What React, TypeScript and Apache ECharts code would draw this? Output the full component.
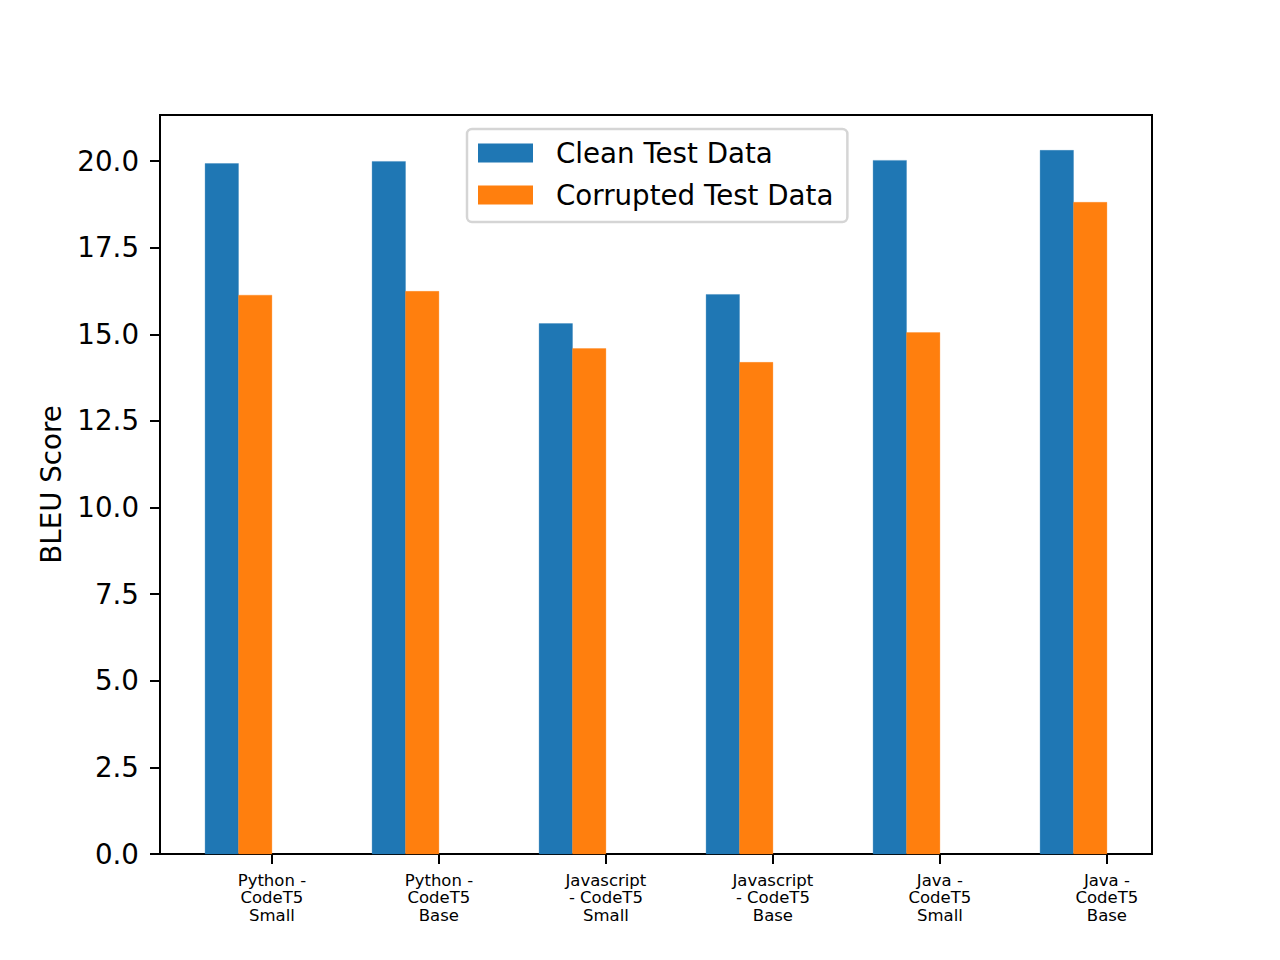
import React, { useEffect, useRef } from "react";
import * as echarts from "echarts";

const categories = [
  "Python -\nCodeT5\nSmall",
  "Python -\nCodeT5\nBase",
  "Javascript\n- CodeT5\nSmall",
  "Javascript\n- CodeT5\nBase",
  "Java -\nCodeT5\nSmall",
  "Java -\nCodeT5\nBase",
];
const cleanScores = [19.93, 19.99, 15.31, 16.15, 20.02, 20.31];
const corruptedScores = [16.13, 16.24, 14.59, 14.19, 15.05, 18.81];
const yTicks = [0, 2.5, 5, 7.5, 10, 12.5, 15, 17.5, 20];
const seriesNames = ["Clean Test Data", "Corrupted Test Data"];
const colors = ["#1f77b4", "#ff7f0e"];

const BAR_W = 0.2;
const FONT = "DejaVu Sans";
const FS = 27.7;

function makeRender(color: string) {
  return (params: any, api: any) => {
    const x = api.value(0);
    const y = api.value(1);
    const p0 = api.coord([x - BAR_W / 2, y]);
    const p1 = api.coord([x + BAR_W / 2, 0]);
    return {
      type: "rect",
      shape: { x: p0[0], y: p0[1], width: p1[0] - p0[0], height: p1[1] - p0[1] },
      style: { fill: color, stroke: color, lineWidth: 0.3 },
    };
  };
}

export default function App() {
  const ref = useRef<HTMLDivElement>(null);
  useEffect(() => {
    document.body.style.margin = "0";
    if (!ref.current) return;
    const chart = echarts.init(ref.current, undefined, { renderer: "svg" });
    const idx = categories.map((_, i) => i);
    chart.setOption({
      animation: false,
      backgroundColor: "#ffffff",
      grid: {
        left: 160,
        top: 115,
        right: 128,
        bottom: 106,
        show: true,
        borderColor: "#000",
        borderWidth: 2,
        outerBoundsMode: "none",
      },
      legend: {
        orient: "vertical",
        left: 467,
        top: 129,
        itemWidth: 55,
        itemHeight: 19,
        itemGap: 14,
        padding: [10, 14, 13, 11],
        backgroundColor: "rgba(255,255,255,0.8)",
        borderColor: "#d5d5d5",
        borderWidth: 2.5,
        borderRadius: 5,
        selectedMode: false,
        data: seriesNames.map((n) => ({ name: n, icon: "rect" })),
        textStyle: {
          fontSize: FS,
          lineHeight: 28,
          color: "#000",
          fontFamily: FONT,
          padding: [0, 0, 0, 18],
        },
      },
      xAxis: {
        type: "value",
        min: -0.67,
        max: 5.27,
        splitLine: { show: false },
        axisLine: { show: true, onZero: false, lineStyle: { color: "#000", width: 2 } },
        axisTick: {
          show: true,
          customValues: idx,
          length: 10,
          lineStyle: { color: "#000", width: 2 },
        },
        axisLabel: {
          customValues: idx,
          formatter: (v: number) => categories[Math.round(v)] ?? "",
          fontSize: 16.5,
          lineHeight: 17.3,
          margin: 18,
          color: "#000",
          fontFamily: FONT,
          align: "center",
        },
      },
      yAxis: {
        type: "value",
        min: 0,
        max: 21.33,
        name: "BLEU Score",
        nameLocation: "middle",
        nameGap: 95,
        nameTextStyle: { fontSize: FS, lineHeight: 28, color: "#000", fontFamily: FONT },
        splitLine: { show: false },
        axisLine: { show: true, onZero: false, lineStyle: { color: "#000", width: 2 } },
        axisTick: {
          show: true,
          customValues: yTicks,
          length: 10,
          lineStyle: { color: "#000", width: 2 },
        },
        axisLabel: {
          customValues: yTicks,
          formatter: (v: number) => v.toFixed(1),
          fontSize: FS,
          margin: 21,
          color: "#000",
          fontFamily: FONT,
        },
      },
      series: [
        {
          name: seriesNames[0],
          type: "custom",
          itemStyle: { color: colors[0] },
          renderItem: makeRender(colors[0]),
          encode: { x: 0, y: 1 },
          data: cleanScores.map((v, i) => [i - 0.3, v]),
        },
        {
          name: seriesNames[1],
          type: "custom",
          itemStyle: { color: colors[1] },
          renderItem: makeRender(colors[1]),
          encode: { x: 0, y: 1 },
          data: corruptedScores.map((v, i) => [i - 0.1, v]),
        },
      ],
    });
    return () => chart.dispose();
  }, []);
  return <div ref={ref} style={{ width: 1280, height: 960 }} />;
}
